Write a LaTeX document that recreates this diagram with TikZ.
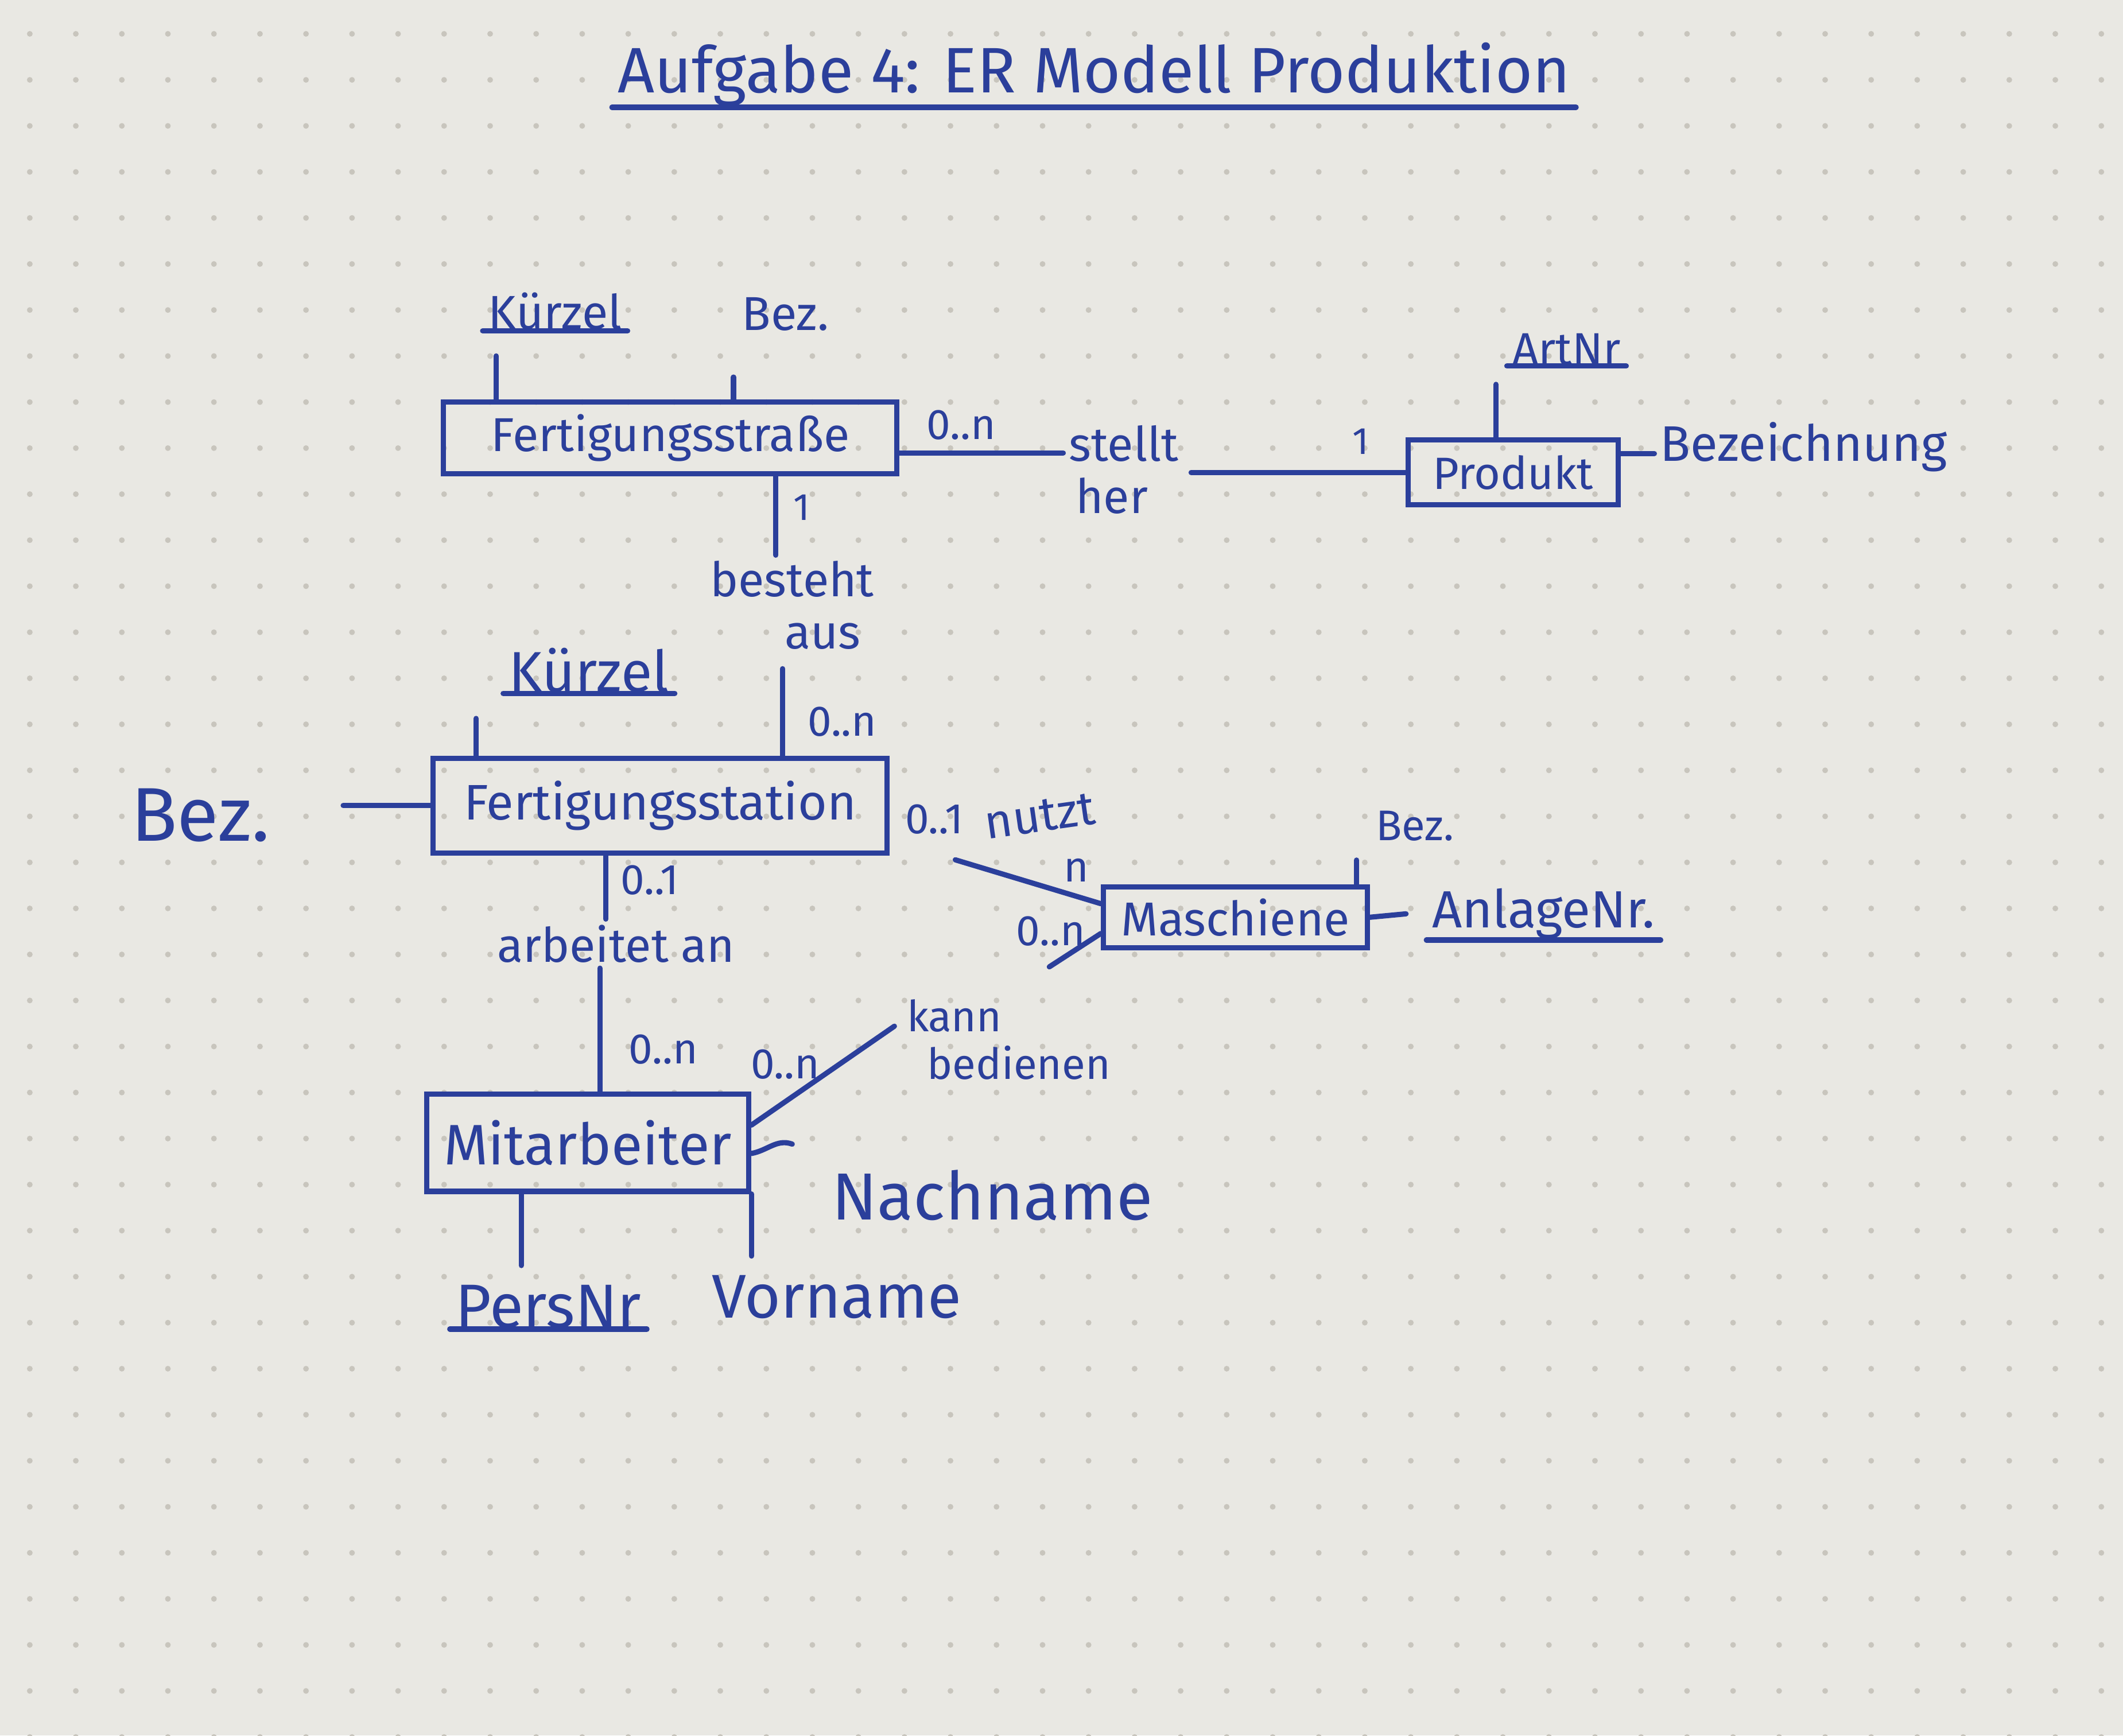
\documentclass[tikz,border=0pt]{standalone}
\usepackage{fontspec}
\setmainfont{Fira Sans}
\usetikzlibrary{positioning, calc}
\definecolor{ink}{HTML}{2B3F9B}
\definecolor{paper}{HTML}{E9E8E3}
\definecolor{dotc}{HTML}{C8C5BD}
\newcommand{\fsz}[1]{\fontsize{#1}{#1}\selectfont}
\tikzset{
  ent/.style={draw=ink, line width=1.1pt, inner sep=0pt, text=ink, font=\fsz{10}},
  att/.style={text=ink, inner sep=1pt, font=\fsz{10}},
  rel/.style={text=ink, inner sep=1pt, align=left, font=\fsz{10}},
  card/.style={text=ink, inner sep=1pt, font=\fsz{9}},
  lin/.style={draw=ink, line width=1.1pt, line cap=round}
}
\newcommand{\ulin}[1]{\draw[lin] ([yshift=1pt]#1.south west) -- ([yshift=1pt]#1.south east);}

\begin{document}
\begin{tikzpicture}
	\fill[paper] (0,0) rectangle (15.68,-12.82);
	\useasboundingbox (0,0) rectangle (15.68,-12.82);
	\foreach \i in {0,...,45}
		\foreach \j in {0,...,37}
			\fill[dotc] (0.22+\i*0.34,-0.25-\j*0.34) circle (0.6pt);

	\node[att, font=\fsz{13.5}] (ti) at (8.08,-0.55) {Aufgabe 4: ER Modell Produktion};
	\ulin{ti}

	\node[ent, minimum width=3.35cm, minimum height=0.53cm] (fs) at (4.95,-3.235) {Fertigungsstraße};
	\node[ent, minimum width=1.55cm, minimum height=0.48cm, font=\fsz{9.5}] (pr) at (11.175,-3.49) {Produkt};
	\node[ent, minimum width=3.35cm, minimum height=0.70cm, font=\fsz{10.5}] (fst) at (4.875,-5.95) {Fertigungsstation};
	\node[ent, minimum width=1.95cm, minimum height=0.45cm] (ma) at (9.125,-6.775) {Maschiene};
	\node[ent, minimum width=2.38cm, minimum height=0.72cm, font=\fsz{12}] (mi) at (4.34,-8.44) {Mitarbeiter};

	\node[att] (k1) at (4.10,-2.30) {Kürzel};
	\ulin{k1}
	\node[att] (b1) at (5.80,-2.32) {Bez.};
	\draw[lin] ([xshift=1mm,yshift=-1.5mm]k1.south west) -- ([xshift=1mm]k1.south west |- fs.north);
	\draw[lin] ([xshift=-0.2mm,yshift=-3mm]b1.south west) -- ([xshift=-0.2mm]b1.south west |- fs.north);

	\node[rel] (st) at (8.30,-3.47) {stellt\\[1pt]\hspace*{0.5mm}her};
	\node[card] at (7.10,-3.14) {0..n};
	\node[card, font=\fsz{8}] at (10.05,-3.26) {1};
	\draw[lin] ([yshift=-1.1mm]fs.east) -- ([yshift=-1.1mm]fs.east -| st.west);
	\draw[lin] (pr.west -| st.east) ++(0.05,0) -- (pr.west);

	\node[att, font=\fsz{9.5}] (a1) at (11.57,-2.58) {ArtNr};
	\ulin{a1}
	\draw[lin] ([xshift=-0.8mm,yshift=-1mm]a1.south west) -- ([xshift=-0.8mm]a1.south west |- pr.north);
	\node[att, font=\fsz{10.5}] (bz) at (13.32,-3.30) {Bezeichnung};
	\draw[lin] ([yshift=1.4mm]pr.east) -- ([yshift=1.4mm]pr.east -| bz.west);

	\node[rel] (ba) at (5.85,-4.47) {besteht\\[1pt]\hspace*{5.5mm}aus};
	\draw[lin] ([xshift=-1.2mm]fs.south -| ba.north) -- ([xshift=-1.2mm]ba.north);
	\node[card, font=\fsz{8}] at (5.92,-3.75) {1};
	\draw[lin] ([xshift=-0.7mm,yshift=-1mm]ba.south) -- ([xshift=-0.7mm]fst.north -| ba.south);
	\node[card] at (6.22,-5.33) {0..n};

	\node[att, font=\fsz{12}] (k2) at (4.35,-4.95) {Kürzel};
	\ulin{k2}
	\draw[lin] ([xshift=-2mm,yshift=-1.5mm]k2.south west) -- ([xshift=-2mm]k2.south west |- fst.north);
	\node[att, font=\fsz{16}] (b2) at (1.48,-6.02) {Bez.};
	\draw[lin] ([xshift=5mm]b2.east |- fst.west) -- (fst.west);

	\node[card] at (6.90,-6.05) {0..1};
	\node[rel, rotate=8] (nu) at (7.68,-6.03) {nutzt};
	\node[card] at (7.95,-6.43) {n};
	\draw[lin] ([xshift=-2mm,yshift=-1mm]nu.south west) -- ([yshift=1mm]ma.west);

	\node[att, font=\fsz{9}] (mb) at (10.45,-6.10) {Bez.};
	\draw[lin] ([xshift=-1mm,yshift=-1mm]mb.south west) -- ([xshift=-1mm]mb.south west |- ma.north);
	\node[att, font=\fsz{11}] (an) at (11.40,-6.75) {AnlageNr.};
	\ulin{an}
	\draw[lin] (ma.east) -- ([xshift=-1.5mm]an.west);

	\node[card] at (7.76,-6.88) {0..n};
	\node[rel, font=\fsz{9}] (kb) at (7.45,-7.68) {kann\\[1pt]\hspace*{1.5mm}bedienen};
	\draw[lin] ([yshift=-1.2mm]ma.west) -- ([xshift=3mm,yshift=2mm]kb.north);
	\draw[lin] ([xshift=-0.5mm,yshift=1mm]kb.west) -- ([yshift=-2.5mm]mi.north east);
	\node[card] at (5.80,-7.86) {0..n};

	\node[rel, font=\fsz{10}] (aa) at (4.55,-6.97) {arbeitet an};
	\draw[lin] ([xshift=-4mm]fst.south) -- ([xshift=-4mm]fst.south |- aa.north);
	\node[card] at (4.80,-6.50) {0..1};
	\draw[lin] ([xshift=-1.2mm]aa.south) -- ([xshift=-1.2mm]mi.north -| aa.south);
	\node[card] at (4.90,-7.75) {0..n};

	\node[att, font=\fsz{14}] (nn) at (7.33,-8.83) {Nachname};
	\draw[lin] ([yshift=-0.8mm]mi.east) to[out=10, in=160] ([xshift=-2.5mm,yshift=1.5mm]nn.north west);
	\node[att, font=\fsz{13}] (pn) at (4.05,-9.65) {PersNr};
	\ulin{pn}
	\draw[lin] ([xshift=-2mm]mi.south -| pn.north) -- ([xshift=-2mm,yshift=1mm]pn.north);
	\node[att, font=\fsz{13}] (vn) at (6.18,-9.58) {Vorname};
	\draw[lin] (mi.south east) -- ([yshift=1mm]mi.south east |- vn.north);
\end{tikzpicture}
\end{document}
